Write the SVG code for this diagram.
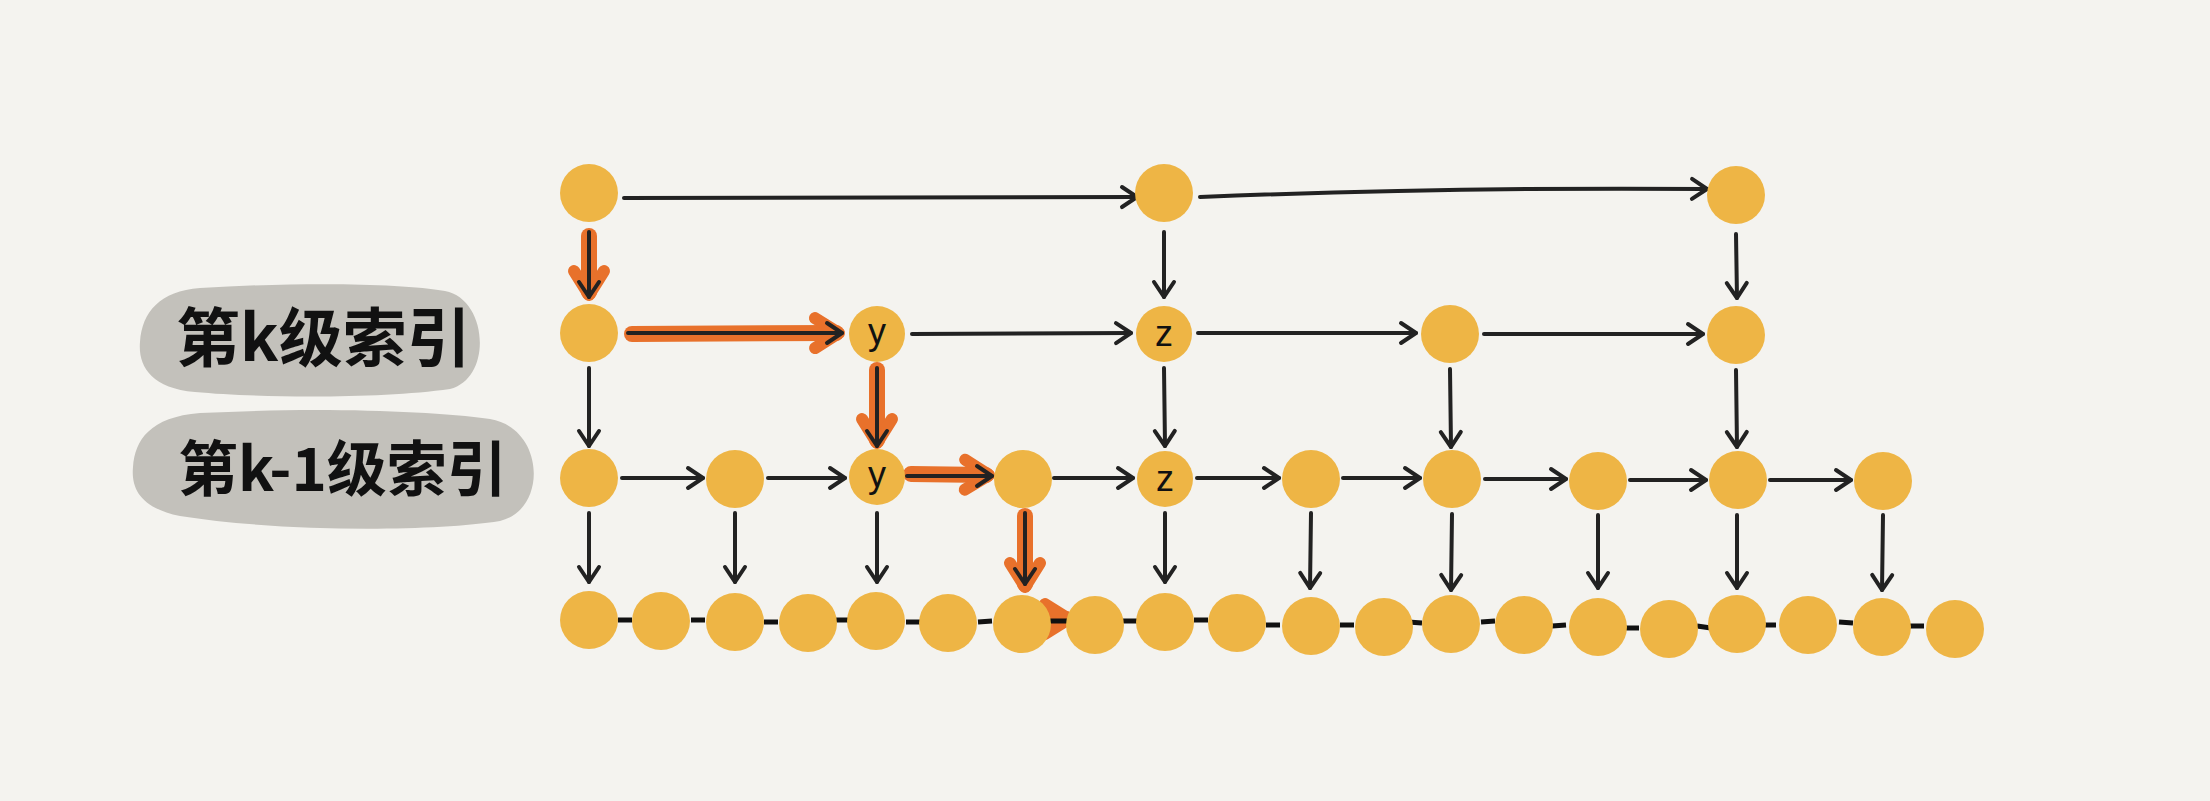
<svg xmlns="http://www.w3.org/2000/svg" width="2210" height="801" viewBox="0 0 2210 801">
<defs>
<style>
.bg{fill:#F4F3EF}
.blob{fill:#C3C1BB}
.lbl{font-family:"Noto Sans CJK SC","Noto Sans",sans-serif;font-weight:700;fill:#111;}
.nd{fill:#EEB545}
.nt{font-family:"Liberation Sans","DejaVu Sans",sans-serif;font-size:36px;fill:#111;text-anchor:middle}
.ln{fill:none;stroke:#222;stroke-width:4;stroke-linecap:round}
.or{fill:none;stroke:#E8712B;stroke-width:16;stroke-linecap:round}
.ds{fill:none;stroke:#111;stroke-width:5;stroke-linecap:butt}
</style>
<marker id="ah" markerUnits="userSpaceOnUse" markerWidth="40" markerHeight="40" viewBox="-20 -20 40 40" refX="0" refY="0" orient="auto" overflow="visible">
<path d="M-15,-10 L0,0 L-15,10" fill="none" stroke="#222" stroke-width="4" stroke-linecap="round" stroke-linejoin="round"/>
</marker>
<marker id="oh" markerUnits="userSpaceOnUse" markerWidth="60" markerHeight="60" viewBox="-30 -30 60 60" refX="0" refY="0" orient="auto" overflow="visible">
<path d="M-21,-15 L3,0 L-21,15" fill="none" stroke="#E8712B" stroke-width="12" stroke-linecap="round" stroke-linejoin="round"/>
</marker>
</defs>
<rect class="bg" x="0" y="0" width="2210" height="801"/>

<g id="label-k">
<path class="blob" d="M200,288 C300,282 400,283 445,291 C488,299 493,378 450,389 C380,399 260,398 195,392 C150,388 138,365 140,342 C142,312 160,291 200,288 Z"/>
<text class="lbl" x="176" y="361" font-size="64">第k级索引</text>
</g>
<g id="label-k-1">
<path class="blob" d="M200,413 C320,407 430,411 490,419 C545,428 548,510 500,521 C430,532 280,532 180,516 C140,508 131,488 133,467 C135,440 150,417 200,413 Z"/>
<text class="lbl" x="178" y="491" font-size="60">第k-1级索引</text>
</g>

<g id="connectors">
<!-- orange highlights underneath -->
<line class="or" x1="589" y1="236" x2="589" y2="292" marker-end="url(#oh)"/>
<line class="or" x1="632" y1="334" x2="836" y2="333" marker-end="url(#oh)"/>
<line class="or" x1="877" y1="370" x2="877" y2="440" marker-end="url(#oh)"/>
<line class="or" x1="911" y1="474" x2="986" y2="475" marker-end="url(#oh)"/>
<line class="or" x1="1025" y1="516" x2="1025" y2="584" marker-end="url(#oh)"/>
<line class="or" x1="1048" y1="619" x2="1066" y2="619" stroke-width="11" marker-end="url(#oh)"/>

<!-- row 0 -->
<path class="ln" d="M624,198 L1137,197" marker-end="url(#ah)"/>
<path class="ln" d="M1200,197 Q1450,187 1707,189" marker-end="url(#ah)"/>
<!-- row0 -> row1 -->
<line class="ln" x1="589" y1="232" x2="589" y2="297" marker-end="url(#ah)"/>
<line class="ln" x1="1164" y1="232" x2="1164" y2="297" marker-end="url(#ah)"/>
<line class="ln" x1="1736" y1="234" x2="1737" y2="298" marker-end="url(#ah)"/>
<!-- row 1 -->
<line class="ln" x1="628" y1="333" x2="842" y2="333" marker-end="url(#ah)"/>
<line class="ln" x1="912" y1="334" x2="1131" y2="333" marker-end="url(#ah)"/>
<line class="ln" x1="1198" y1="333" x2="1416" y2="333" marker-end="url(#ah)"/>
<line class="ln" x1="1484" y1="334" x2="1703" y2="334" marker-end="url(#ah)"/>
<!-- row1 -> row2 -->
<line class="ln" x1="589" y1="368" x2="589" y2="446" marker-end="url(#ah)"/>
<line class="ln" x1="877" y1="368" x2="877" y2="446" marker-end="url(#ah)"/>
<line class="ln" x1="1164" y1="368" x2="1165" y2="446" marker-end="url(#ah)"/>
<line class="ln" x1="1450" y1="369" x2="1451" y2="447" marker-end="url(#ah)"/>
<line class="ln" x1="1736" y1="370" x2="1737" y2="447" marker-end="url(#ah)"/>
<!-- row 2 -->
<line class="ln" x1="622" y1="478" x2="703" y2="478" marker-end="url(#ah)"/>
<line class="ln" x1="768" y1="478" x2="845" y2="478" marker-end="url(#ah)"/>
<line class="ln" x1="907" y1="476" x2="992" y2="476" marker-end="url(#ah)"/>
<line class="ln" x1="1054" y1="478" x2="1133" y2="478" marker-end="url(#ah)"/>
<line class="ln" x1="1197" y1="478" x2="1279" y2="478" marker-end="url(#ah)"/>
<line class="ln" x1="1343" y1="478" x2="1420" y2="478" marker-end="url(#ah)"/>
<line class="ln" x1="1485" y1="479" x2="1566" y2="479" marker-end="url(#ah)"/>
<line class="ln" x1="1630" y1="480" x2="1706" y2="480" marker-end="url(#ah)"/>
<line class="ln" x1="1770" y1="480" x2="1851" y2="480" marker-end="url(#ah)"/>
<!-- row2 -> bottom -->
<line class="ln" x1="589" y1="513" x2="589" y2="582" marker-end="url(#ah)"/>
<line class="ln" x1="735" y1="513" x2="735" y2="582" marker-end="url(#ah)"/>
<line class="ln" x1="877" y1="513" x2="877" y2="582" marker-end="url(#ah)"/>
<line class="ln" x1="1025" y1="513" x2="1025" y2="584" marker-end="url(#ah)"/>
<line class="ln" x1="1165" y1="513" x2="1165" y2="582" marker-end="url(#ah)"/>
<line class="ln" x1="1311" y1="513" x2="1310" y2="588" marker-end="url(#ah)"/>
<line class="ln" x1="1452" y1="514" x2="1451" y2="590" marker-end="url(#ah)"/>
<line class="ln" x1="1598" y1="515" x2="1598" y2="588" marker-end="url(#ah)"/>
<line class="ln" x1="1737" y1="515" x2="1737" y2="588" marker-end="url(#ah)"/>
<line class="ln" x1="1883" y1="515" x2="1882" y2="590" marker-end="url(#ah)"/>
<!-- bottom dashes -->
<line class="ds" x1="618" y1="620" x2="632" y2="620"/>
<line class="ds" x1="691" y1="620" x2="705" y2="620"/>
<line class="ds" x1="764" y1="622" x2="778" y2="622"/>
<line class="ds" x1="835" y1="620" x2="849" y2="620"/>
<line class="ds" x1="906" y1="622" x2="920" y2="622"/>
<line class="ds" x1="978" y1="622" x2="992" y2="621"/>
<line class="ds" x1="1046" y1="621" x2="1068" y2="621"/>
<line class="ds" x1="1123" y1="621" x2="1137" y2="621"/>
<line class="ds" x1="1194" y1="620" x2="1208" y2="620"/>
<line class="ds" x1="1266" y1="625" x2="1280" y2="625"/>
<line class="ds" x1="1340" y1="625" x2="1354" y2="625"/>
<line class="ds" x1="1408" y1="622" x2="1422" y2="623"/>
<line class="ds" x1="1481" y1="622" x2="1495" y2="621"/>
<line class="ds" x1="1552" y1="626" x2="1566" y2="625"/>
<line class="ds" x1="1625" y1="628" x2="1639" y2="628"/>
<line class="ds" x1="1697" y1="626" x2="1711" y2="628"/>
<line class="ds" x1="1762" y1="625" x2="1776" y2="625"/>
<line class="ds" x1="1839" y1="622" x2="1853" y2="623"/>
<line class="ds" x1="1910" y1="626" x2="1924" y2="626"/>
</g>

<g id="row0">
<g id="n0-0"><circle class="nd" cx="589" cy="193" r="29"/></g>
<g id="n0-1"><circle class="nd" cx="1164" cy="193" r="29"/></g>
<g id="n0-2"><circle class="nd" cx="1736" cy="195" r="29"/></g>
</g>
<g id="row1">
<g id="n1-0"><circle class="nd" cx="589" cy="333" r="29"/></g>
<g id="n1-y"><circle class="nd" cx="877" cy="334" r="28"/><text class="nt" x="877" y="344">y</text></g>
<g id="n1-z"><circle class="nd" cx="1164" cy="334" r="28"/><text class="nt" x="1164" y="346">z</text></g>
<g id="n1-3"><circle class="nd" cx="1450" cy="334" r="29"/></g>
<g id="n1-4"><circle class="nd" cx="1736" cy="335" r="29"/></g>
</g>
<g id="row2">
<g id="n2-0"><circle class="nd" cx="589" cy="478" r="29"/></g>
<g id="n2-1"><circle class="nd" cx="735" cy="479" r="29"/></g>
<g id="n2-y"><circle class="nd" cx="877" cy="477" r="28"/><text class="nt" x="877" y="487">y</text></g>
<g id="n2-3"><circle class="nd" cx="1023" cy="479" r="29"/></g>
<g id="n2-z"><circle class="nd" cx="1165" cy="479" r="28"/><text class="nt" x="1165" y="491">z</text></g>
<g id="n2-5"><circle class="nd" cx="1311" cy="479" r="29"/></g>
<g id="n2-6"><circle class="nd" cx="1452" cy="479" r="29"/></g>
<g id="n2-7"><circle class="nd" cx="1598" cy="481" r="29"/></g>
<g id="n2-8"><circle class="nd" cx="1738" cy="480" r="29"/></g>
<g id="n2-9"><circle class="nd" cx="1883" cy="481" r="29"/></g>
</g>
<g id="row3">
<g id="n3-0"><circle class="nd" cx="589" cy="620" r="29"/></g>
<g id="n3-1"><circle class="nd" cx="661" cy="621" r="29"/></g>
<g id="n3-2"><circle class="nd" cx="735" cy="622" r="29"/></g>
<g id="n3-3"><circle class="nd" cx="808" cy="623" r="29"/></g>
<g id="n3-4"><circle class="nd" cx="876" cy="621" r="29"/></g>
<g id="n3-5"><circle class="nd" cx="948" cy="623" r="29"/></g>
<g id="n3-6"><circle class="nd" cx="1022" cy="624" r="29"/></g>
<g id="n3-7"><circle class="nd" cx="1095" cy="625" r="29"/></g>
<g id="n3-8"><circle class="nd" cx="1165" cy="622" r="29"/></g>
<g id="n3-9"><circle class="nd" cx="1237" cy="623" r="29"/></g>
<g id="n3-10"><circle class="nd" cx="1311" cy="626" r="29"/></g>
<g id="n3-11"><circle class="nd" cx="1384" cy="627" r="29"/></g>
<g id="n3-12"><circle class="nd" cx="1451" cy="624" r="29"/></g>
<g id="n3-13"><circle class="nd" cx="1524" cy="625" r="29"/></g>
<g id="n3-14"><circle class="nd" cx="1598" cy="627" r="29"/></g>
<g id="n3-15"><circle class="nd" cx="1669" cy="629" r="29"/></g>
<g id="n3-16"><circle class="nd" cx="1737" cy="624" r="29"/></g>
<g id="n3-17"><circle class="nd" cx="1808" cy="625" r="29"/></g>
<g id="n3-18"><circle class="nd" cx="1882" cy="627" r="29"/></g>
<g id="n3-19"><circle class="nd" cx="1955" cy="629" r="29"/></g>
</g>
</svg>
